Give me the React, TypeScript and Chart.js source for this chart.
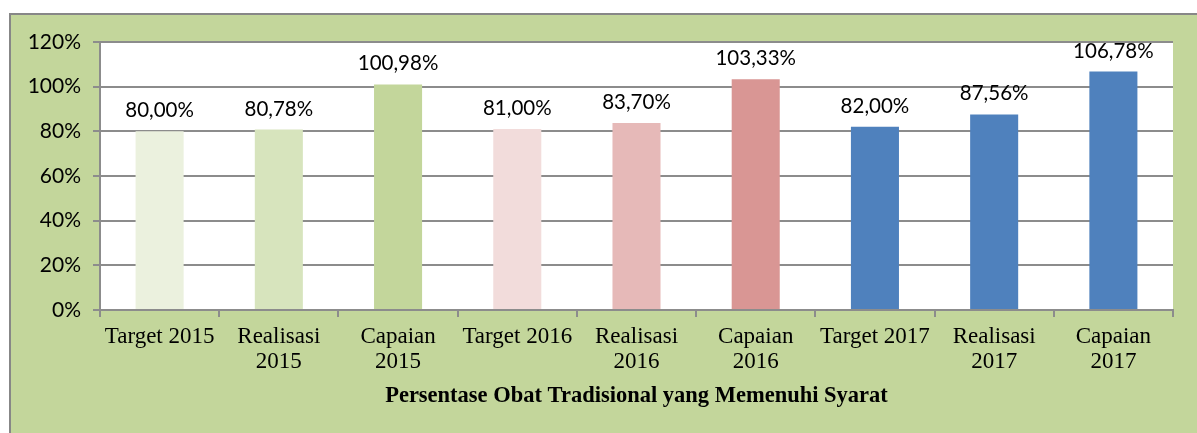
import React, { useEffect, useRef } from "react";
import { Chart, registerables } from "chart.js";

Chart.register(...registerables);

const categories: (string | string[])[] = [
  "Target 2015",
  ["Realisasi", "2015"],
  ["Capaian", "2015"],
  "Target 2016",
  ["Realisasi", "2016"],
  ["Capaian", "2016"],
  "Target 2017",
  ["Realisasi", "2017"],
  ["Capaian", "2017"],
];
const values = [80.0, 80.78, 100.98, 81.0, 83.7, 103.33, 82.0, 87.56, 106.78];
const barColors = [
  "#ebf1de",
  "#d7e4bd",
  "#c3d69b",
  "#f2dcdb",
  "#e6b9b8",
  "#d99694",
  "#4f81bd",
  "#4f81bd",
  "#4f81bd",
];
const axisTitle = "Persentase Obat Tradisional yang Memenuhi Syarat";
const yMin = 0;
const yMax = 120;
const yStep = 20;

const fmt = (v: number) => v.toFixed(2).replace(".", ",") + "%";

const GRID = "#8c8c8c";
const SANS = "Lato, 'Open Sans', sans-serif";
const SERIF = "'Liberation Serif', 'DejaVu Serif', serif";

export default function App() {
  const ref = useRef<HTMLCanvasElement | null>(null);

  useEffect(() => {
    if (!ref.current) return;
    const plotBg = {
      id: "plotBg",
      beforeDraw(chart: any) {
        const { ctx, chartArea } = chart;
        ctx.save();
        ctx.fillStyle = "#ffffff";
        ctx.fillRect(
          chartArea.left,
          chartArea.top,
          chartArea.right - chartArea.left,
          chartArea.bottom - chartArea.top
        );
        ctx.restore();
      },
    };
    const valueLabels = {
      id: "valueLabels",
      afterDatasetsDraw(chart: any) {
        const { ctx } = chart;
        const meta = chart.getDatasetMeta(0);
        ctx.save();
        ctx.font = `20.5px ${SANS}`;
        ctx.fillStyle = "#000";
        ctx.textAlign = "center";
        ctx.textBaseline = "alphabetic";
        meta.data.forEach((bar: any, i: number) => {
          ctx.fillText(fmt(values[i]), bar.x, bar.y - 14);
        });
        ctx.restore();
      },
    };
    const chart = new Chart(ref.current, {
      type: "bar",
      data: {
        labels: categories,
        datasets: [
          {
            data: values,
            backgroundColor: barColors,
            borderWidth: 0,
            categoryPercentage: 1,
            barPercentage: 0.403,
          },
        ],
      },
      options: {
        animation: false,
        responsive: false,
        layout: { padding: { top: 27, right: 24, left: 0, bottom: 0 } },
        plugins: {
          legend: { display: false },
          tooltip: { enabled: false },
        },
        scales: {
          x: {
            offset: true,
            grid: {
              offset: true,
              drawOnChartArea: false,
              drawTicks: true,
              tickLength: 7,
              color: GRID,
              lineWidth: 2,
            },
            border: { display: true, color: GRID, width: 2 },
            ticks: {
              color: "#000",
              padding: 7,
              maxRotation: 0,
              autoSkip: false,
              font: { family: SERIF, size: 23, lineHeight: 1.1 },
            },
            title: {
              display: true,
              text: axisTitle,
              color: "#000",
              font: { family: SERIF, size: 22.5, weight: "bold", lineHeight: 1.2 },
              padding: { top: 0, bottom: 23 },
            },
            afterFit(scale: any) {
              scale.height = 123;
            },
          },
          y: {
            min: yMin,
            max: yMax,
            grid: {
              color: GRID,
              lineWidth: 2,
              tickLength: 7,
              drawTicks: true,
            },
            border: { display: true, color: GRID, width: 2 },
            ticks: {
              stepSize: yStep,
              color: "#000",
              padding: 12,
              font: { family: SANS, size: 21 },
              callback: (v: any) => v + "%",
            },
            afterFit(scale: any) {
              scale.width = 89;
            },
          },
        },
      },
      plugins: [plotBg, valueLabels],
    });
    return () => chart.destroy();
  }, []);

  return (
    <div
      style={{
        position: "absolute",
        left: 9,
        top: 13,
        width: 1188,
        height: 420,
        boxSizing: "border-box",
        background: "#c3d69b",
        borderLeft: "2px solid #878787",
        borderTop: "2px solid #878787",
        overflow: "hidden",
      }}
    >
      <canvas
        ref={ref}
        width={1186}
        height={418}
        style={{ display: "block", width: 1186, height: 418 }}
      />
    </div>
  );
}
